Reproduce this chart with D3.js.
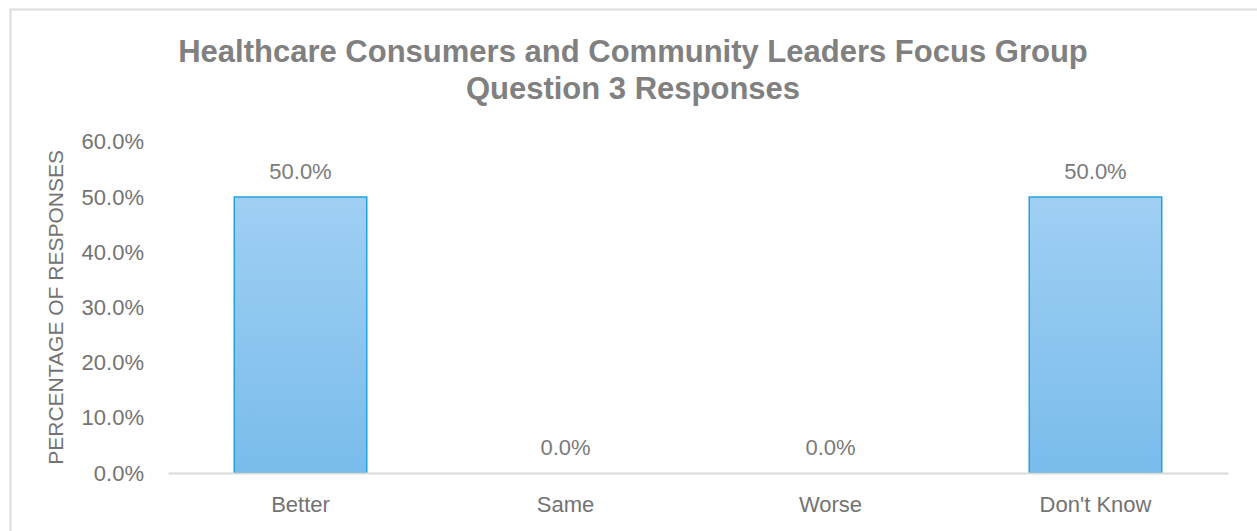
<!DOCTYPE html>
<html>
  <head>
    <meta charset="utf-8">
    <title>Question 3 Responses</title>
    <style media="screen">
    body{margin: 0; background: #fff}
    text{font-family: "Liberation Sans", Arial, sans-serif}
    </style>
  </head>
  <body>
    <script src="https://d3js.org/d3.v7.min.js"></script>
    <script type="text/javascript">
      var w = 1257, h = 531;

      var categories = ["Better", "Same", "Worse", "Don't Know"];
      var values = [0.5, 0, 0, 0.5];
      var yTicks = [0, 0.1, 0.2, 0.3, 0.4, 0.5, 0.6];
      var titleLines = ["Healthcare Consumers and Community Leaders Focus Group", "Question 3 Responses"];

      var plotLeft = 168, plotRight = 1228, plotTop = 141.8, plotBottom = 473;
      var fontFam = '"Liberation Sans", Arial, sans-serif';

      var svg = d3.select('body').append('svg')
        .attr('width', w)
        .attr('height', h)

      var defs = svg.append('defs')
      var grad = defs.append('linearGradient')
        .attr('id', 'barFill')
        .attr('x1', 0).attr('y1', 0).attr('x2', 0).attr('y2', 1)
      grad.append('stop').attr('offset', '0%').attr('stop-color', '#a0cff3')
      grad.append('stop').attr('offset', '100%').attr('stop-color', '#79bceb')

      // chart frame
      svg.append('rect')
        .attr('x', 10.5).attr('y', 9.5)
        .attr('width', 1270).attr('height', 540)
        .attr('fill', 'none')
        .attr('stroke', '#dcdcdc')
        .attr('stroke-width', 2)

      var x = d3.scaleBand()
        .domain(categories)
        .range([plotLeft, plotRight])
        .paddingInner(0.5)
        .paddingOuter(0.25)

      var y = d3.scaleLinear()
        .domain([0, 0.6])
        .range([plotBottom, plotTop])

      var fmt = d3.format('.1%')

      // title
      svg.append('text')
        .attr('x', 633)
        .attr('y', 62)
        .attr('text-anchor', 'middle')
        .attr('fill', '#808080')
        .style('font-size', '31px')
        .style('font-weight', 'bold')
        .selectAll('tspan')
        .data(titleLines)
        .enter()
          .append('tspan')
          .attr('x', 633)
          .attr('dy', function(d, i){ return i ? 37 : 0 })
          .text(function(d){ return d })

      // y axis (labels only)
      var yAxis = svg.append('g')
        .attr('transform', 'translate(144,0)')
        .call(d3.axisLeft(y).tickValues(yTicks).tickFormat(fmt).tickSize(0).tickPadding(0))
      yAxis.select('.domain').remove()
      yAxis.selectAll('text')
        .attr('fill', '#737373')
        .style('font-size', '22px')
        .style('font-family', fontFam)

      // y axis title
      svg.append('text')
        .attr('transform', 'translate(63,' + (plotBottom + plotTop) / 2 + ') rotate(-90)')
        .attr('text-anchor', 'middle')
        .attr('fill', '#737373')
        .style('font-size', '21px')
        .text('PERCENTAGE OF RESPONSES')

      // bars
      svg.selectAll('rect.bar')
        .data(values)
        .enter()
          .append('rect')
          .attr('class', 'bar')
          .attr('x', function(d, i){ return x(categories[i]) })
          .attr('y', function(d){ return y(d) })
          .attr('width', x.bandwidth())
          .attr('height', function(d){ return plotBottom - y(d) })
          .attr('fill', 'url(#barFill)')
          .attr('stroke', function(d){ return d > 0 ? '#22a2dc' : 'none' })
          .attr('stroke-width', 1.5)

      // x axis
      var xAxis = svg.append('g')
        .attr('transform', 'translate(0,' + plotBottom + ')')
        .call(d3.axisBottom(x).tickSize(0).tickPadding(23))
      xAxis.select('.domain')
        .attr('stroke', '#d9d9d9')
        .attr('stroke-width', 2)
      xAxis.selectAll('text')
        .attr('fill', '#737373')
        .style('font-size', '22px')
        .style('font-family', fontFam)

      // data labels
      svg.selectAll('text.lbl')
        .data(values)
        .enter()
          .append('text')
          .attr('class', 'lbl')
          .attr('x', function(d, i){ return x(categories[i]) + x.bandwidth() / 2 })
          .attr('y', function(d){ return y(d) - 18 })
          .attr('text-anchor', 'middle')
          .attr('fill', '#7a7a7a')
          .style('font-size', '22px')
          .text(function(d){ return fmt(d) })
    </script>
  </body>
</html>
